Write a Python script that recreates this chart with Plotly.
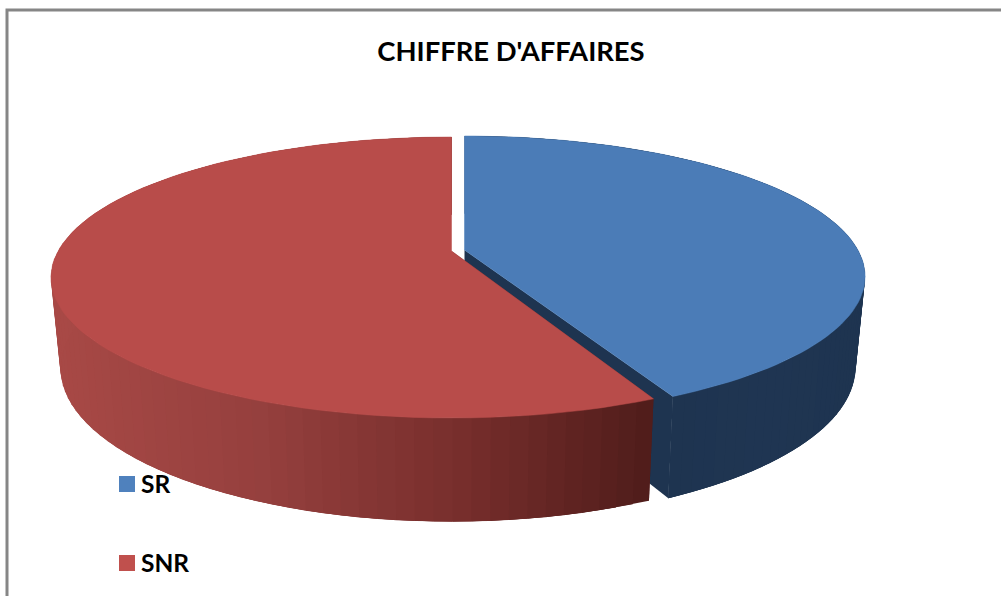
import math
import plotly.graph_objects as go

categories = ["SR", "SNR"]
values = [43, 57]
top_colors = ["#4B7CB7", "#B84C4A"]
legend_colors = ["#4F81BD", "#C0504D"]
side_stops = [
    [(0.0, "#1E3450"), (0.45, "#1F3552"), (1.0, "#1E3450")],
    [(0.0, "#A84946"), (0.35, "#96403E"), (0.7, "#772E2C"), (1.0, "#511D1B")],
]
title_text = "CHIFFRE D'AFFAIRES"

W, H = 1001, 596
CX = [464.5, 451.5]
TOP = dict(cy=[250, 251], rx=393.4, ry=135.5, k=0.1886)
BOT = dict(cy=[338, 339], rx=384.0, ry=148.0, k=0.19)
TRIM = [0.016, 0.0]  # small shortening of the slice's trailing edge (exploded look)
LEGEND_Y = [484, 563]


def project(i, theta, plane, r=1.0):
    X, Y = r * math.sin(theta), -r * math.cos(theta)
    w = 1 / (1 - plane["k"] * Y)
    return CX[i] + plane["rx"] * X * w, plane["cy"][i] + plane["ry"] * Y * w


def hex2rgb(c):
    return [int(c[j:j + 2], 16) for j in (1, 3, 5)]


def ramp(stops, t):
    for (a, ca), (b, cb) in zip(stops, stops[1:]):
        if t <= b:
            f = (t - a) / (b - a)
            p, q = hex2rgb(ca), hex2rgb(cb)
            return "rgb(%d,%d,%d)" % tuple(round(p[n] + (q[n] - p[n]) * f) for n in range(3))
    return stops[-1][1]


def poly(xs, ys, color, lw=0):
    return go.Scatter(x=xs + xs[:1], y=ys + ys[:1], mode="lines", fill="toself", fillcolor=color,
                      line=dict(color=color, width=lw), hoverinfo="skip", showlegend=False)


fig = go.Figure()
total = sum(values)
start = 0.0
for i in range(len(values)):
    stop = start + 2 * math.pi * values[i] / total
    end = stop - TRIM[i]
    n = 90
    angles = [start + (end - start) * j / n for j in range(n + 1)]

    # radial cut walls
    for a in (start, end):
        ta, tb = project(i, a, TOP), project(i, 0, TOP, 0)
        ba, bb = project(i, a, BOT), project(i, 0, BOT, 0)
        fig.add_trace(poly([ta[0], tb[0], bb[0], ba[0]], [ta[1], tb[1], bb[1], ba[1]],
                           side_stops[0][0][1] if i == 0 else side_stops[1][-1][1]))

    # outer wall, shaded by its horizontal position; later strips overlap earlier ones
    xmin = CX[i] - 400 if i == 1 else project(i, end, TOP)[0]
    xmax = project(i, start, TOP)[0] if i == 1 else CX[i] + 400
    for j in range(n):
        a, b = angles[j], angles[min(j + 3, n)]
        t1, t2 = project(i, a, TOP), project(i, b, TOP)
        b1, b2 = project(i, a, BOT), project(i, b, BOT)
        t = min(1, max(0, (t1[0] - xmin) / (xmax - xmin)))
        if i == 0:
            t = 1 - t
        fig.add_trace(poly([t1[0], t2[0], b2[0], b1[0]], [t1[1], t2[1], b2[1], b1[1]], ramp(side_stops[i], t)))

    # top face
    pts = [project(i, 0, TOP, 0)] + [project(i, a, TOP) for a in angles]
    fig.add_trace(poly([p[0] for p in pts], [p[1] for p in pts], top_colors[i], 0.5))
    start = stop

shapes = [dict(type="rect", xref="x", yref="y", x0=7, y0=10, x1=W + 20, y1=H + 20,
               line=dict(color="#868686", width=3), fillcolor="rgba(0,0,0,0)")]
annotations = []
for i, name in enumerate(categories):
    shapes.append(dict(type="rect", xref="x", yref="y", x0=119, x1=135,
                       y0=LEGEND_Y[i] - 8, y1=LEGEND_Y[i] + 8,
                       line=dict(width=0), fillcolor=legend_colors[i]))
    annotations.append(dict(x=141, y=LEGEND_Y[i], xref="x", yref="y", text=name, showarrow=False,
                            xanchor="left", yanchor="middle", xshift=-2, yshift=1,
                            font=dict(family="Lato", size=24.5, color="black", weight="bold")))

fig.update_layout(
    width=W, height=H, margin=dict(l=0, r=0, t=0, b=0),
    paper_bgcolor="white", plot_bgcolor="white", showlegend=False,
    xaxis=dict(range=[0, W], visible=False, fixedrange=True),
    yaxis=dict(range=[H, 0], visible=False, fixedrange=True),
    title=dict(text=title_text, x=511 / W, xanchor="center", y=1 - 51 / H, yanchor="middle",
               font=dict(family="Lato", size=27.4, color="black", weight="bold")),
    shapes=shapes, annotations=annotations,
)
fig.write_html("out.html", config={"displayModeBar": False},
               post_script="document.body.style.margin='0';document.body.style.overflow='hidden';")
